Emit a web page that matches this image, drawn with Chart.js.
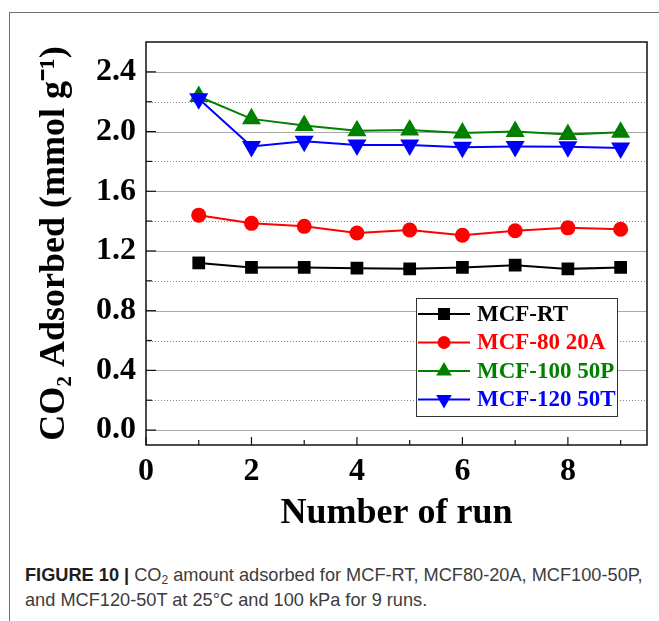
<!DOCTYPE html>
<html>
<head>
<meta charset="utf-8">
<script src="https://cdn.jsdelivr.net/npm/chart.js@4.4.0/dist/chart.umd.min.js"></script>
<style>
  html, body { margin: 0; padding: 0; background: #fff; }
  #page { position: relative; width: 659px; height: 621px; overflow: hidden; background: #fff; }
  #frame { position: absolute; left: 9px; top: 12px; width: 700px; height: 700px;
           border-left: 1px solid #707070; border-top: 1px solid #707070; }
  #wrap { position: absolute; left: 0; top: 0; width: 659px; height: 545px; }
  #caption { position: absolute; left: 25px; top: 563px; width: 634px;
             font: 18.2px 'Liberation Sans', Arial, sans-serif; line-height: 25px; color: #3c3c3c; }
  #caption b { color: #1e1e1e; }
  #caption sub { font-size: 12px; vertical-align: -3px; line-height: 0; }
</style>
</head>
<body>
<div id="page">
  <div id="frame"></div>
  <div id="wrap"><canvas id="chart"></canvas></div>
  <div id="caption"><b>FIGURE 10 |</b> CO<sub>2</sub> amount adsorbed for MCF-RT, MCF80-20A, MCF100-50P,<br>and MCF120-50T at 25°C and 100 kPa for 9 runs.</div>
</div>
<script>
// values
const runs = [1, 2, 3, 4, 5, 6, 7, 8, 9];
const mcfRT = [1.12, 1.09, 1.09, 1.085, 1.08, 1.09, 1.105, 1.08, 1.09];
const mcf80 = [1.44, 1.385, 1.365, 1.32, 1.34, 1.305, 1.335, 1.355, 1.345];
const mcf100 = [2.235, 2.085, 2.04, 2.005, 2.01, 1.99, 2.0, 1.98, 1.995];
const mcf120 = [2.22, 1.90, 1.935, 1.91, 1.91, 1.895, 1.90, 1.898, 1.89];
const seriesNames = ['MCF-RT', 'MCF-80 20A', 'MCF-100 50P', 'MCF-120 50T'];

const yTicks = [0, 0.4, 0.8, 1.2, 1.6, 2.0, 2.4];
const yMinor = [0.2, 0.6, 1.0, 1.4, 1.8, 2.2];
const xTicks = [0, 2, 4, 6, 8];
const xMinor = [1, 3, 5, 7, 9];

const serif = "'Liberation Serif', 'Times New Roman', serif";

function toPoints(vals) {
  return runs.map((r, i) => ({ x: r, y: vals[i] }));
}

function series(label, vals, color, style, radius, rotation, order) {
  return {
    label,
    data: toPoints(vals),
    borderColor: color,
    backgroundColor: color,
    borderWidth: 2,
    pointStyle: style,
    pointRadius: radius,
    pointHoverRadius: radius,
    pointRotation: rotation,
    pointBorderWidth: 0,
    order
  };
}

// grid, inward ticks, frame and the boxed legend
const framePlugin = {
  id: 'framePlugin',
  beforeDatasetsDraw(chart) {
    const { ctx, chartArea: a, scales: { y } } = chart;
    ctx.save();
    ctx.lineWidth = 1;
    ctx.strokeStyle = '#a9a9a9';
    yTicks.forEach(v => {
      const py = Math.round(y.getPixelForValue(v)) + 0.5;
      ctx.beginPath(); ctx.moveTo(a.left, py); ctx.lineTo(a.right, py); ctx.stroke();
    });
    ctx.strokeStyle = '#8a8a8a';
    ctx.setLineDash([1, 2]);
    yMinor.forEach(v => {
      const py = Math.round(y.getPixelForValue(v)) + 0.5;
      ctx.beginPath(); ctx.moveTo(a.left, py); ctx.lineTo(a.right, py); ctx.stroke();
    });
    ctx.restore();
  },
  afterDatasetsDraw(chart) {
    const { ctx, chartArea: a, scales: { x, y } } = chart;
    ctx.save();
    ctx.strokeStyle = '#111';
    ctx.lineWidth = 1.5;
    ctx.strokeRect(a.left, a.top, a.width, a.height);

    ctx.lineWidth = 1.2;
    const tick = (x1, y1, x2, y2) => { ctx.beginPath(); ctx.moveTo(x1, y1); ctx.lineTo(x2, y2); ctx.stroke(); };
    yTicks.forEach(v => { const py = y.getPixelForValue(v); tick(a.left, py, a.left + 10, py); });
    yMinor.forEach(v => { const py = y.getPixelForValue(v); tick(a.left, py, a.left + 6, py); });
    xTicks.forEach(v => { const px = x.getPixelForValue(v); tick(px, a.bottom, px, a.bottom - 8); });
    xMinor.forEach(v => { const px = x.getPixelForValue(v); tick(px, a.bottom, px, a.bottom - 5); });

    // legend box
    const bx = a.right - 231, by = a.bottom - 147, bw = 201, bh = 118;
    ctx.fillStyle = '#fff';
    ctx.fillRect(bx, by, bw, bh);
    ctx.lineWidth = 1;
    ctx.strokeStyle = '#333';
    ctx.strokeRect(bx + 0.5, by + 0.5, bw, bh);

    const legendRadius = [8.5, 6.5, 9, 9];
    ctx.font = 'bold 23px ' + serif;
    ctx.textBaseline = 'middle';
    ctx.textAlign = 'left';
    chart.data.datasets.forEach((ds, i) => {
      const ry = by + 16 + i * 28.5;
      ctx.strokeStyle = ds.borderColor;
      ctx.lineWidth = 2;
      tick(bx + 2, ry, bx + 54, ry);
      ctx.fillStyle = ds.backgroundColor;
      Chart.helpers.drawPoint(ctx, {
        pointStyle: ds.pointStyle, radius: legendRadius[i], rotation: ds.pointRotation, borderWidth: 0
      }, bx + 28, ry);
      ctx.fillStyle = ds.borderColor;
      ctx.fillText(seriesNames[i], bx + 61, ry + 1);
    });
    ctx.restore();
  }
};

new Chart(document.getElementById('chart'), {
  type: 'line',
  data: {
    datasets: [
      series(seriesNames[0], mcfRT, '#000000', 'rect', 9, 0, 4),
      series(seriesNames[1], mcf80, '#ff0000', 'circle', 7.5, 0, 3),
      series(seriesNames[2], mcf100, '#008000', 'triangle', 11, 0, 2),
      series(seriesNames[3], mcf120, '#0000ff', 'triangle', 11, 180, 1)
    ]
  },
  options: {
    responsive: true,
    maintainAspectRatio: false,
    animation: false,
    layout: { padding: { top: 42, right: 12, left: 0, bottom: 0 } },
    plugins: { legend: { display: false }, tooltip: { enabled: false } },
    elements: { line: { tension: 0 } },
    scales: {
      x: {
        type: 'linear',
        min: 0,
        max: 9.5,
        grid: { display: false, drawTicks: false },
        border: { display: false },
        afterBuildTicks: s => { s.ticks = xTicks.map(v => ({ value: v })); },
        afterFit: s => { s.height = 100; },
        ticks: {
          padding: 8,
          color: '#000',
          font: { family: serif, size: 32, weight: 'bold' },
          callback: v => String(v)
        },
        title: {
          display: true,
          text: 'Number of run',
          color: '#000',
          font: { family: serif, size: 36, weight: 'bold' },
          padding: { top: 0, bottom: 10 }
        }
      },
      y: {
        min: -0.1,
        max: 2.6,
        grid: { display: false, drawTicks: false },
        border: { display: false },
        afterBuildTicks: s => { s.ticks = yTicks.map(v => ({ value: v })); },
        afterFit: s => { s.width = 146; },
        ticks: {
          padding: 10,
          color: '#000',
          font: { family: serif, size: 32, weight: 'bold' },
          callback: v => v.toFixed(1)
        },
        title: {
          display: true,
          text: 'CO\u2082 Adsorbed (mmol g\u207B\u00B9)',
          color: '#000',
          font: { family: serif, size: 36, weight: 'bold' },
          padding: { top: 33, bottom: 0 }
        }
      }
    }
  },
  plugins: [framePlugin]
});
</script>
</body>
</html>
